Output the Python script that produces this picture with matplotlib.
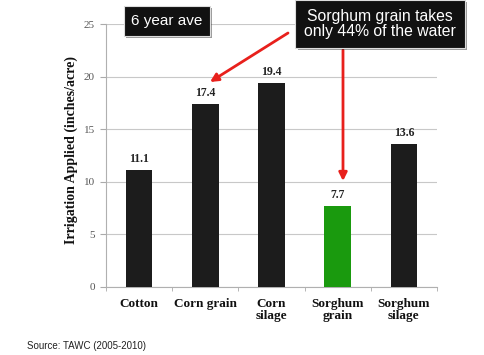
import matplotlib
matplotlib.use("Agg")
import matplotlib.pyplot as plt
import matplotlib.patheffects as pe

# datos
crops = ["Cotton", "Corn grain", "Corn\nsilage", "Sorghum\ngrain", "Sorghum\nsilage"]
irrigation = [11.1, 17.4, 19.4, 7.7, 13.6]
bar_colors = ["#1c1c1c", "#1c1c1c", "#1c1c1c", "#1a9a0e", "#1c1c1c"]
yticks = [0, 5, 10, 15, 20, 25]

fig = plt.figure(figsize=(4.84, 3.55), dpi=100)
ax = fig.add_axes([106 / 484, 1 - 287 / 355, 331 / 484, 263 / 355])

x = list(range(len(crops)))
ax.bar(x, irrigation, width=0.4, color=bar_colors, zorder=3)

for xi, v in zip(x, irrigation):
    ax.text(xi, v + 0.45, f"{v:.1f}", ha="center", va="bottom",
            fontsize=8.5, fontweight="bold", family="Liberation Serif", color="#222222")

ax.set_xlim(-0.5, len(crops) - 0.5)
ax.set_ylim(0, 25)
ax.set_yticks(yticks)
ax.set_yticklabels([str(t) for t in yticks], family="Liberation Serif",
                   fontsize=8, color="#555555")
ax.set_xticks(x)
ax.set_xticklabels(crops, family="Liberation Serif", fontweight="bold",
                   fontsize=9.5, color="#111111", linespacing=0.95)
ax.set_xticks([i + 0.5 for i in range(-1, len(crops))], minor=True)
ax.tick_params(axis="x", which="major", length=0, pad=8)
ax.tick_params(axis="x", which="minor", length=3, color="#aaaaaa")
ax.tick_params(axis="y", length=4, color="#aaaaaa", pad=4)

ax.grid(axis="y", color="#c8c8c8", linewidth=0.8, zorder=0)
for s in ["top", "right"]:
    ax.spines[s].set_visible(False)
for s in ["left", "bottom"]:
    ax.spines[s].set_color("#b0b0b0")
    ax.spines[s].set_linewidth(0.8)

ax.set_ylabel("Irrigation Applied (inches/acre)", family="Liberation Serif",
              fontweight="bold", fontsize=10, color="#111111")
ax.yaxis.set_label_coords(-0.085, 0.52)

# cajas de anotación
shadow = [pe.withSimplePatchShadow(offset=(1.5, -1.5), alpha=0.4)]
fig.text(167 / 484, 1 - 21 / 355, "6 year ave", color="white", fontsize=11,
         family="Liberation Sans", va="center", ha="center",
         bbox=dict(boxstyle="square,pad=0.5", fc="#111111", ec="#dddddd", lw=0.8,
                   path_effects=shadow))
fig.text(380 / 484, 1 - 24 / 355, "Sorghum grain takes\nonly 44% of the water",
         color="white", fontsize=11.3, family="Liberation Sans", va="center",
         ha="center", linespacing=1.05,
         bbox=dict(boxstyle="square,pad=0.55", fc="#111111", ec="#dddddd", lw=0.8,
                   path_effects=shadow))

# flechas rojas
ax.annotate("", xy=(210 / 484, 1 - 82 / 355), xycoords="figure fraction",
            xytext=(288 / 484, 1 - 33 / 355), textcoords="figure fraction",
            arrowprops=dict(arrowstyle="-|>", color="#e8201c", lw=2,
                            mutation_scale=12, shrinkA=0, shrinkB=0))
ax.annotate("", xy=(343 / 484, 1 - 181 / 355), xycoords="figure fraction",
            xytext=(343 / 484, 1 - 50 / 355), textcoords="figure fraction",
            arrowprops=dict(arrowstyle="-|>", color="#e8201c", lw=2,
                            mutation_scale=12, shrinkA=0, shrinkB=0))

fig.text(27 / 484, 1 - 346 / 355, "Source: TAWC (2005-2010)", fontsize=7,
         family="Liberation Sans", color="#222222", va="center")

fig.savefig("out.png", dpi=100)
